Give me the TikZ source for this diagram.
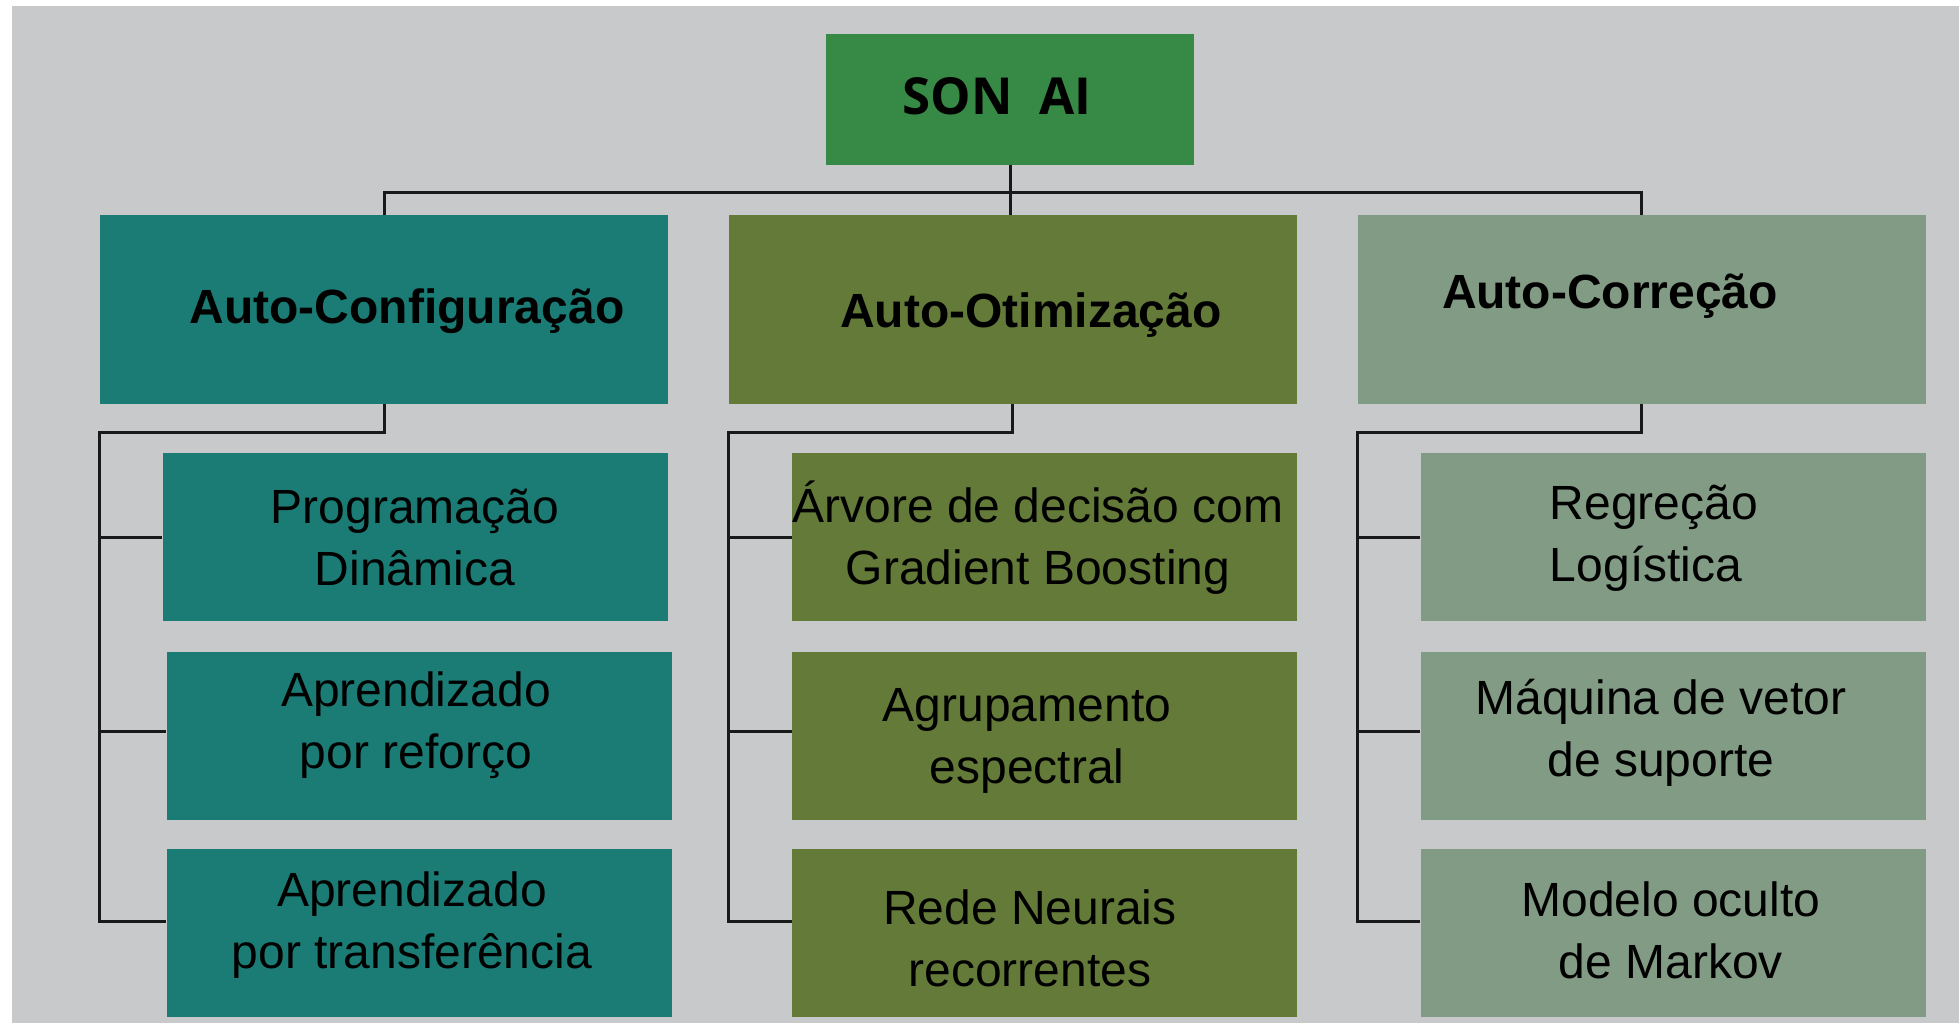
\documentclass[tikz,border=0pt]{standalone}
\usepackage{fontspec}
\setmainfont{Liberation Sans}
\newfontfamily\sonfont{Open Sans}
\definecolor{bggray}{HTML}{C8C9CB}
\definecolor{songreen}{HTML}{378A46}
\definecolor{cfgteal}{HTML}{1B7B75}
\definecolor{otimolive}{HTML}{647A39}
\definecolor{corrsage}{HTML}{829B84}

\begin{document}
\begin{tikzpicture}[x=1pt,y=-1pt,
    box/.style={rectangle, inner sep=0pt},
    topbox/.style={box, fill=songreen, minimum width=368pt, minimum height=131pt},
    lvlbox/.style={box, minimum width=568pt, minimum height=189pt},
    leafbox/.style={box, minimum width=505pt, minimum height=168pt},
    headtxt/.style={font=\fontsize{48}{62}\selectfont\bfseries},
    leaftxt/.style={font=\fontsize{48}{62}\selectfont, align=center, inner sep=0pt},
    link/.style={line width=3pt, draw=black!90}]
    \useasboundingbox (0,0) rectangle (1959,1023);
    \fill[white] (0,0) rectangle (1959,1023);
    \fill[bggray] (12,6) rectangle (1959,1023);

    % root
    \node[topbox] (son) at (1010,99.5) {};
    \node[font=\fontsize{51}{60}\sonfont\bfseries] (sontxt) at (997,96) {SON\ \ AI};

    % first level
    \node[lvlbox, fill=cfgteal] (cfg) at (384,309.5) {};
    \node[lvlbox, fill=otimolive] (otim) at (1012.5,309.5) {};
    \node[lvlbox, fill=corrsage] (corr) at (1641.5,309.5) {};
    \node[headtxt] (cfgtxt) at (407,311) {Auto-Configuração};
    \node[headtxt] (otimtxt) at (1031,315) {Auto-Otimização};
    \node[headtxt] (corrtxt) at (1610,296) {Auto-Correção};

    % leaves
    \node[leafbox, fill=cfgteal] (cfga) at (415,537) {};
    \node[leafbox, fill=cfgteal] (cfgb) at (419,735.5) {};
    \node[leafbox, fill=cfgteal] (cfgc) at (419,933) {};
    \node[leafbox, fill=otimolive] (otima) at (1044.5,537) {};
    \node[leafbox, fill=otimolive] (otimb) at (1044.5,735.5) {};
    \node[leafbox, fill=otimolive] (otimc) at (1044.5,933) {};
    \node[leafbox, fill=corrsage] (corra) at (1673,537) {};
    \node[leafbox, fill=corrsage] (corrb) at (1673,735.5) {};
    \node[leafbox, fill=corrsage] (corrc) at (1673,933) {};

    \node[leaftxt] (cfgatxt) at (415,538) {Programação\\Dinâmica};
    \node[leaftxt] (cfgbtxt) at (416,725) {Aprendizado\\por reforço};
    \node[leaftxt] (cfgctxt) at (412,925) {Aprendizado\\por transferência};
    \node[leaftxt] (otimatxt) at (1038,538) {Árvore de decisão com\\Gradient Boosting};
    \node[leaftxt] (otimbtxt) at (1027,741) {Agrupamento\\espectral};
    \node[leaftxt] (otimctxt) at (1030,938) {Rede Neurais\\recorrentes};
    \node[leaftxt, align=left] (corratxt) at (1654,538) {Regreção\\Logística};
    \node[leaftxt] (corrbtxt) at (1661,733) {Máquina de vetor\\de suporte};
    \node[leaftxt] (corrctxt) at (1671,930) {Modelo oculto\\de Markov};

    % connectors
    \coordinate (bus) at ([yshift=-27pt]son.south);
    \draw[link] (son.south) -- (son.south |- otim.north);
    \draw[link] (cfg.north) |- (bus) -| (corr.north);

    \coordinate (cfgj) at ([yshift=-28pt]cfg.south);
    \draw[link] (cfg.south) -- (cfgj) -- (cfgj -| cfg.west) |- ([yshift=12pt]cfgc.west);
    \draw[link] (cfga.west -| cfg.west) -- (cfga.west);
    \draw[link] ([yshift=4pt]cfgb.west -| cfg.west) -- ([yshift=4pt]cfgb.west);

    \coordinate (otimj) at ([yshift=-28pt]otim.south);
    \draw[link] (otim.south) -- (otimj) -- (otimj -| otim.west) |- ([yshift=12pt]otimc.west);
    \draw[link] (otima.west -| otim.west) -- (otima.west);
    \draw[link] ([yshift=4pt]otimb.west -| otim.west) -- ([yshift=4pt]otimb.west);

    \coordinate (corrj) at ([yshift=-28pt]corr.south);
    \draw[link] (corr.south) -- (corrj) -- (corrj -| corr.west) |- ([yshift=12pt]corrc.west);
    \draw[link] (corra.west -| corr.west) -- (corra.west);
    \draw[link] ([yshift=4pt]corrb.west -| corr.west) -- ([yshift=4pt]corrb.west);
\end{tikzpicture}
\end{document}
